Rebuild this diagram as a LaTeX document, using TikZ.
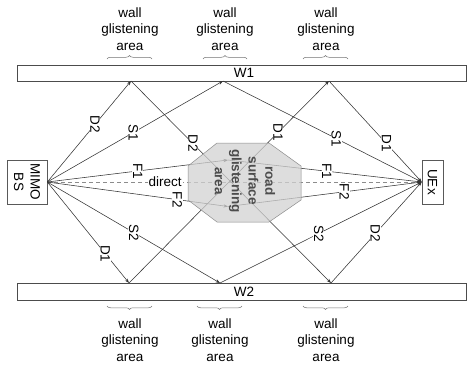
\documentclass[tikz,border=0pt]{standalone}
\usepackage{fontspec}
\setmainfont{Liberation Sans}
\usetikzlibrary{arrows.meta,decorations.pathreplacing}
\begin{document}
\begin{tikzpicture}[x=1pt,y=-1pt,
  every node/.style={font=\fontsize{13.5}{16.5}\selectfont},
  box/.style={draw=black!65,line width=0.6pt,fill=white,inner sep=0pt},
  wall/.style={draw=black!70,line width=0.6pt,fill=white},
  ray/.style={draw=black!80,line width=0.55pt,-{Stealth[length=4.5pt,width=3.2pt]}},
  lbl/.style={fill=white,inner sep=0.6pt,rotate=-90},
  brc/.style={draw=black!55,line width=0.5pt,decorate,decoration={brace,amplitude=3.5pt}},
  gtext/.style={align=center},
  roadarea/.style={draw=black!45,line width=0.5pt,fill=black!18,fill opacity=0.75},
]
\useasboundingbox (0,0) rectangle (468,367);

% walls
\draw[wall] (17,65) rectangle (466.5,81);
\draw[wall] (17,283) rectangle (466.5,300);
\node (W1) at (244,73) {W1};
\node (W2) at (244,291.5) {W2};

% terminals
\node[box,minimum width=40pt,minimum height=44pt] (BS) at (27,182) {};
\node[rotate=-90,align=center] (BSt) at (BS.center) {MIMO\\BS};
\node[box,minimum width=21pt,minimum height=44pt] (UE) at (432.5,182) {};
\node[rotate=-90] (UEt) at (UE.center) {UEx};

% reflection points
\coordinate (w1a) at (131,81);
\coordinate (w1b) at (223,81);
\coordinate (w1c) at (329,81);
\coordinate (w2a) at (129,283);
\coordinate (w2b) at (220,283);
\coordinate (w2c) at (331,283);
\coordinate (rf1) at (228,160);
\coordinate (rf2) at (228,206.5);

% direct path
\draw[draw=black!45,line width=0.6pt,dashed,dash pattern=on 4pt off 3pt,-{Stealth[length=4.5pt,width=3.2pt]}]
  (BS.east) -- node[fill=white,inner sep=1pt,pos=0.315] (ldir) {direct} (UE.west);

% rays without labels overlapping the road
\draw[ray] (BS.east) -- (w1a);
\draw[ray] (BS.east) -- (w1b);
\draw[ray] (BS.east) -- (w2a);
\draw[ray] (BS.east) -- (w2b);
\draw[ray] (BS.east) -- (rf1);
\draw[ray] (BS.east) -- (rf2);
\draw[ray] (w1a) -- (w2c);
\draw[ray] (w2a) -- (w1c);
\draw[ray] (w1b) -- (UE.west);
\draw[ray] (w1c) -- (UE.west);
\draw[ray] (w2b) -- (UE.west);
\draw[ray] (w2c) -- (UE.west);
\draw[ray] (rf1) -- (UE.west);
\draw[ray] (rf2) -- (UE.west);

% road surface glistening area
\draw[roadarea] (217,143) -- (269,143) -- (301,166) -- (301,200) -- (269,222)
  -- (217,222) -- (188,200) -- (188,166) -- cycle;
\node[rotate=-90,align=center,text=black!70,font=\fontsize{13.5}{16.8}\selectfont\bfseries]
  (road) at (245,181) {road\\surface\\glistening\\area};

% labels on rays
\path (BS.east) -- node[lbl,pos=0.57] (l1) {D2} (w1a);
\path (BS.east) -- node[lbl,pos=0.49] (l2) {S1} (w1b);
\path (w1a) -- node[lbl,pos=0.31] (l3) {D2} (w2c);
\path (w2a) -- node[lbl,pos=0.745] (l4) {D1} (w1c);
\path (w1b) -- node[lbl,pos=0.57] (l5) {S1} (UE.west);
\path (w1c) -- node[lbl,pos=0.62] (l6) {D1} (UE.west);
\path (BS.east) -- node[lbl,pos=0.50] (l7) {F1} (rf1);
\path (BS.east) -- node[lbl,pos=0.72] (l8) {F2} (rf2);
\path (rf1) -- node[lbl,pos=0.51] (l9) {F1} (UE.west);
\path (rf2) -- node[lbl,pos=0.60] (l10) {F2} (UE.west);
\path (BS.east) -- node[lbl,pos=0.50] (l11) {S2} (w2b);
\path (BS.east) -- node[lbl,pos=0.71] (l12) {D1} (w2a);
\path (w2b) -- node[lbl,pos=0.49] (l13) {S2} (UE.west);
\path (w2c) -- node[lbl,pos=0.49] (l14) {D2} (UE.west);

% braces and texts
\draw[brc] (107,59) -- (152,59);
\draw[brc] (203,59) -- (247,59);
\draw[brc] (303,59) -- (348,59);
\draw[brc] (152,306) -- (107,306);
\draw[brc] (242,306) -- (197,306);
\draw[brc] (348,306) -- (303,306);
\node[gtext] (t1) at (130,29) {wall\\glistening\\area};
\node[gtext] (t2) at (225,29) {wall\\glistening\\area};
\node[gtext] (t3) at (326,29) {wall\\glistening\\area};
\node[gtext] (b1) at (130,340) {wall\\glistening\\area};
\node[gtext] (b2) at (220,340) {wall\\glistening\\area};
\node[gtext] (b3) at (326,340) {wall\\glistening\\area};
\end{tikzpicture}
\end{document}
